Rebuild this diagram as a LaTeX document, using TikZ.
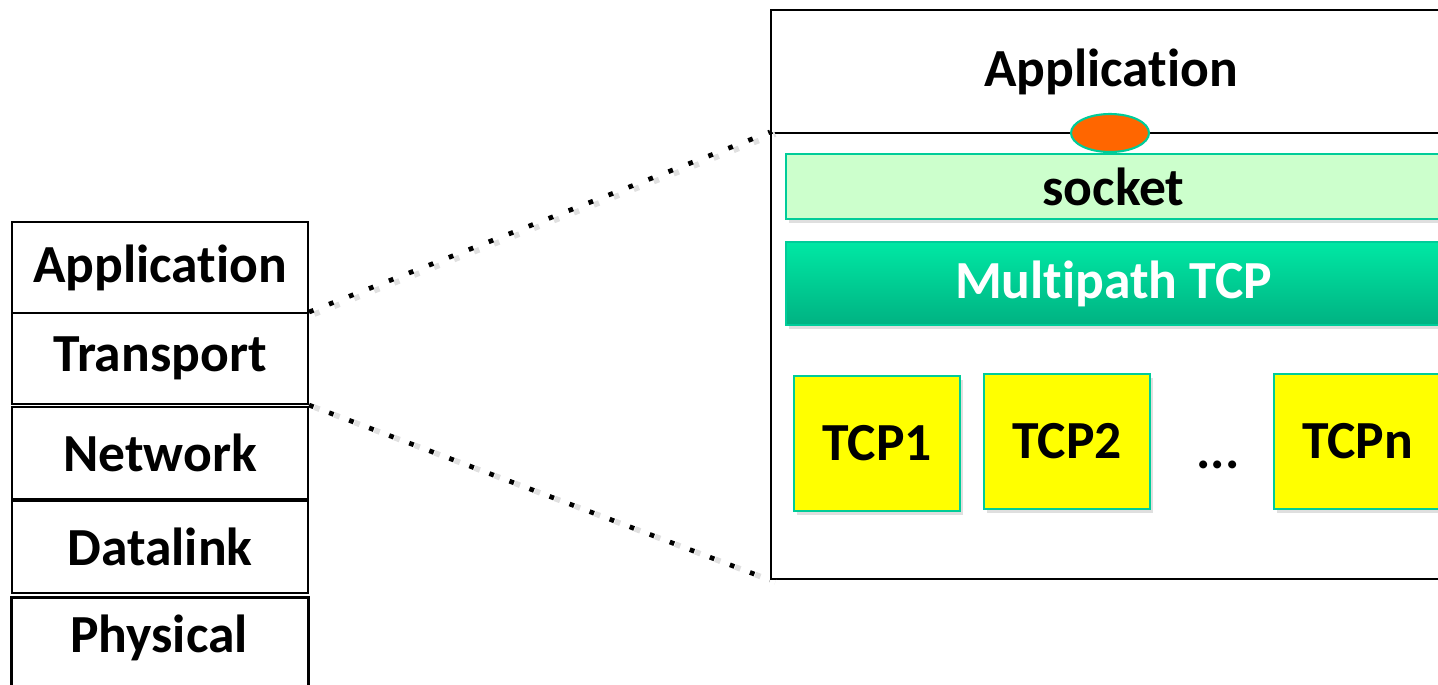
\documentclass[tikz,border=0pt]{standalone}
\usepackage{fontspec}
\setmainfont[RawFeature={-liga}]{Carlito}
\usetikzlibrary{shapes.geometric,shadows}
\definecolor{teal}{RGB}{0,204,153}
\definecolor{sockfill}{RGB}{204,255,204}
\definecolor{mptop}{RGB}{0,232,164}
\definecolor{mpbot}{RGB}{0,178,130}
\definecolor{tcpyel}{RGB}{255,255,0}
\definecolor{orng}{RGB}{255,102,0}
\tikzset{
  lbl/.style={font=\fontsize{30.5}{36}\selectfont\bfseries},
  layer/.style={draw=black, line width=1.2pt, anchor=north west, inner sep=0pt, lbl},
  sbox/.style={draw=teal, line width=1.2pt, anchor=north west, inner sep=0pt, lbl,
    drop shadow={shadow xshift=1.5pt, shadow yshift=-2.5pt, opacity=0.25}},
  conn/.style={line width=2.7pt, dash pattern=on 2.7pt off 9.5pt},
  connshadow/.style={line width=3.2pt, dash pattern=on 3.2pt off 9pt, draw=black!12}
}
\begin{document}
\begin{tikzpicture}[x=0.02cm, y=-0.02cm]
\useasboundingbox (0,0) rectangle (1438,684);
% left stack
\node[layer, minimum width=5.92cm, minimum height=1.82cm] (lapp) at (11,221) {Application};
\node[layer, minimum width=5.92cm, minimum height=1.82cm] (ltrans) at (11,312) {Transport};
\node[layer, minimum width=5.92cm, minimum height=1.84cm] (lnet) at (11,406) {Network};
\node[layer, minimum width=5.92cm, minimum height=1.84cm] (ldl) at (11,500) {Datalink};
\node[layer, minimum width=5.92cm, minimum height=1.84cm, text depth=0pt] (lphy) at (11,597) {};
\node[lbl] (lphytxt) at (159,638) {Physical};
\draw[line width=1.2pt] (lphy.south west) -- (lphy.north west) -- (lphy.north east) -- (lphy.south east);
% right box
\node[layer, minimum width=13.6cm, minimum height=2.46cm] (rapp) at (770,9) {Application};
\node[layer, minimum width=13.6cm, minimum height=8.92cm] (rbody) at (770,132) {};
\node[sbox, fill=sockfill, minimum width=13.1cm, minimum height=1.3cm] (sock) at (785,153) {socket};
\node[sbox, top color=mptop, bottom color=mpbot, text=white, minimum width=13.1cm, minimum height=1.66cm] (mptcp) at (785,241) {Multipath TCP};
\node[ellipse, draw=teal, fill=orng, line width=1.2pt, inner sep=0pt, minimum width=1.56cm, minimum height=0.76cm] (sockpt) at (1110,133) {};
\node[sbox, fill=tcpyel, minimum width=3.32cm, minimum height=2.7cm] (tcp1) at (793,375) {TCP1};
\node[sbox, fill=tcpyel, minimum width=3.32cm, minimum height=2.7cm] (tcp2) at (983,373) {TCP2};
\node[sbox, fill=tcpyel, minimum width=3.34cm, minimum height=2.7cm] (tcpn) at (1273,373) {TCPn};
\node[lbl, anchor=base] (dots) at (1218,468) {...};
% connectors
\draw[connshadow, transform canvas={shift={(3pt,-1.2pt)}}] (ltrans.north east) -- (rbody.north west);
\draw[connshadow, transform canvas={shift={(3pt,-1.2pt)}}] (ltrans.south east) -- (rbody.south west);
\draw[conn] (ltrans.north east) -- (rbody.north west);
\draw[conn] (ltrans.south east) -- (rbody.south west);
\end{tikzpicture}
\end{document}
